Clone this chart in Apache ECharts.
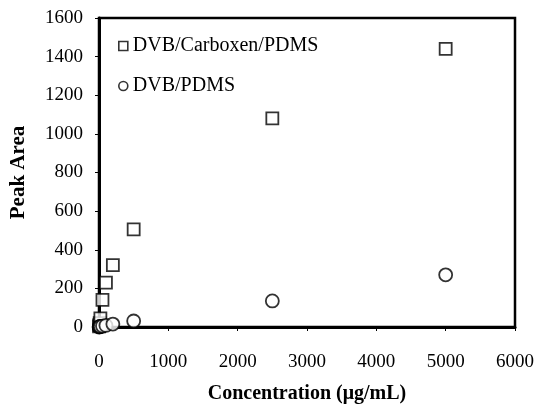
<!DOCTYPE html>
<html><head><meta charset="utf-8">
<script src="https://cdn.jsdelivr.net/npm/echarts@6/dist/echarts.min.js"></script>
<style>html,body{margin:0;padding:0;background:#fff}#c{width:537px;height:404px}</style>
</head><body><div id="c"></div>
<script>
const concentrations = [1, 5, 10, 20, 50, 100, 200, 500, 2500, 5000];
const carboxenValues = [3, 10, 20, 45, 140, 230, 320, 505, 1080, 1440];
const pdmsValues = [0, 1, 2, 3, 5, 8, 15, 31, 135, 270];
const seriesNames = ['DVB/Carboxen/PDMS', 'DVB/PDMS'];

const font = 'Liberation Serif';
const chart = echarts.init(document.getElementById('c'));
chart.setOption({
  animation: false,
  backgroundColor: '#fff',
  grid: { left: 99, right: 22, top: 18, bottom: 77, show: true, borderColor: '#000', borderWidth: 2.5, outerBoundsMode: 'none', containLabel: false },
  legend: {
    left: 118, top: 36, orient: 'vertical', itemGap: 20, padding: 0,
    itemWidth: 9, itemHeight: 9,
    itemStyle: { borderWidth: 1.6 },
    textStyle: { fontFamily: font, fontSize: 20, color: '#000' },
    data: seriesNames
  },
  xAxis: {
    type: 'value', min: 0, max: 6000, interval: 1000,
    name: 'Concentration (μg/mL)', nameLocation: 'middle', nameGap: 57,
    nameTextStyle: { fontFamily: font, fontSize: 20, fontWeight: 'bold', color: '#000' },
    axisLine: { show: true, lineStyle: { color: '#000', width: 3 } },
    axisTick: { show: true, inside: false, length: 4, lineStyle: { color: '#000' } },
    axisLabel: { fontFamily: font, fontSize: 19, color: '#000', margin: 26, formatter: v => String(v) },
    splitLine: { show: false }
  },
  yAxis: {
    type: 'value', min: 0, max: 1600, interval: 200,
    name: 'Peak Area', nameLocation: 'middle', nameGap: 70,
    nameTextStyle: { fontFamily: font, fontSize: 21, fontWeight: 'bold', color: '#000' },
    axisLine: { show: true, lineStyle: { color: '#000', width: 3 } },
    axisTick: { show: true, inside: false, length: 4, lineStyle: { color: '#000' } },
    axisLabel: { fontFamily: font, fontSize: 19, color: '#000', margin: 16, formatter: v => String(v) },
    splitLine: { show: false }
  },
  series: [
    {
      name: seriesNames[0], type: 'scatter', symbol: 'rect', symbolSize: 12,
      itemStyle: { color: '#fff', borderColor: '#000', borderWidth: 1.8 },
      data: concentrations.map((c, i) => [c, carboxenValues[i]])
    },
    {
      name: seriesNames[1], type: 'scatter', symbol: 'circle', symbolSize: 13,
      itemStyle: { color: '#fff', borderColor: '#000', borderWidth: 1.8 },
      data: concentrations.map((c, i) => [c, pdmsValues[i]])
    }
  ]
});
</script></body></html>
